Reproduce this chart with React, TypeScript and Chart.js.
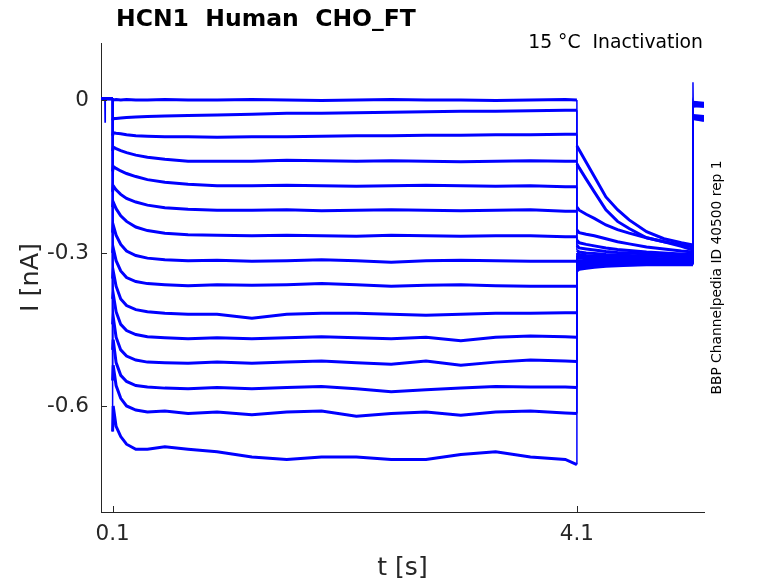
import React, { useEffect, useRef } from "react";
import { Chart, registerables, type ChartConfiguration, type Plugin } from "chart.js";

Chart.register(...registerables);

const FONT = "'DejaVu Sans', sans-serif";
const AXIS_COLOR = "#262626";
const TRACE_COLOR = "#0000ff";

const TITLE = "HCN1  Human  CHO_FT";
const SUBTITLE = "15 °C  Inactivation";
const SIDE_NOTE = "BBP Channelpedia ID 40500 rep 1";
const X_LABEL = "t [s]";
const Y_LABEL = "I [nA]";

const X_TICKS = [0.1, 4.1];
const X_TICK_LABELS = ["0.1", "4.1"];
const Y_TICKS = [0, -0.3, -0.6];
const Y_TICK_LABELS = ["0", "-0.3", "-0.6"];
const X_MIN = 0;
const X_MAX = 5.195;
const Y_MIN = -0.808;
const Y_MAX = 0.112;

// holding period before the prepulse (nA)
const PRE_T = [0, 0.033, 0.035, 0.037, 0.1];
const PRE_I = [0.003, 0.003, 0.003, 0.003, 0.003];
const PRE_I_ARTIFACT = [0.003, 0.003, -0.043, 0.003, 0.003];
const ARTIFACT_SWEEP = 14;

// prepulse, first point is the onset transient
const PULSE_T = [0.1, 0.105, 0.13, 0.17, 0.22, 0.3, 0.4, 0.55, 0.75, 1.0, 1.3, 1.6, 1.9, 2.2, 2.5, 2.8, 3.1, 3.4, 3.7, 4.0, 4.1];
const PULSE_I = [
  [0.0, 0.0, 0.001, 0.0, 0.001, 0.0, 0.0, 0.001, 0.0, 0.0, 0.001, 0.0, -0.001, 0.0, 0.001, 0.0, 0.0, -0.001, 0.0, 0.001, 0.0],
  [-0.04, -0.036, -0.036, -0.035, -0.034, -0.033, -0.032, -0.031, -0.03, -0.029, -0.028, -0.026, -0.026, -0.025, -0.024, -0.023, -0.022, -0.022, -0.021, -0.02, -0.02],
  [-0.07, -0.064, -0.065, -0.066, -0.068, -0.07, -0.071, -0.072, -0.072, -0.073, -0.072, -0.072, -0.071, -0.07, -0.07, -0.069, -0.069, -0.068, -0.068, -0.067, -0.067],
  [-0.1, -0.092, -0.095, -0.099, -0.103, -0.108, -0.112, -0.116, -0.12, -0.12, -0.12, -0.118, -0.119, -0.12, -0.119, -0.12, -0.121, -0.12, -0.119, -0.12, -0.12],
  [-0.14, -0.13, -0.134, -0.139, -0.144, -0.15, -0.156, -0.161, -0.165, -0.168, -0.168, -0.167, -0.168, -0.169, -0.168, -0.167, -0.168, -0.169, -0.168, -0.17, -0.17],
  [-0.18, -0.168, -0.176, -0.185, -0.193, -0.2, -0.206, -0.211, -0.214, -0.216, -0.216, -0.215, -0.217, -0.216, -0.215, -0.216, -0.217, -0.216, -0.215, -0.218, -0.218],
  [-0.21, -0.2, -0.213, -0.227, -0.238, -0.249, -0.256, -0.261, -0.264, -0.265, -0.266, -0.265, -0.266, -0.267, -0.265, -0.266, -0.267, -0.266, -0.266, -0.268, -0.268],
  [-0.26, -0.245, -0.265, -0.283, -0.296, -0.305, -0.31, -0.313, -0.315, -0.314, -0.316, -0.315, -0.313, -0.315, -0.318, -0.315, -0.314, -0.315, -0.316, -0.316, -0.316],
  [-0.3, -0.29, -0.315, -0.335, -0.348, -0.356, -0.36, -0.362, -0.364, -0.362, -0.363, -0.362, -0.36, -0.362, -0.365, -0.363, -0.362, -0.364, -0.365, -0.365, -0.365],
  [-0.35, -0.335, -0.365, -0.39, -0.403, -0.411, -0.415, -0.418, -0.42, -0.42, -0.428, -0.42, -0.418, -0.418, -0.42, -0.422, -0.42, -0.418, -0.418, -0.417, -0.417],
  [-0.39, -0.38, -0.415, -0.44, -0.452, -0.46, -0.464, -0.466, -0.468, -0.466, -0.468, -0.466, -0.464, -0.466, -0.468, -0.465, -0.472, -0.465, -0.463, -0.464, -0.465],
  [-0.44, -0.425, -0.465, -0.49, -0.502, -0.51, -0.514, -0.515, -0.516, -0.514, -0.516, -0.514, -0.512, -0.515, -0.518, -0.512, -0.52, -0.514, -0.51, -0.512, -0.513],
  [-0.49, -0.47, -0.515, -0.54, -0.552, -0.56, -0.563, -0.565, -0.566, -0.564, -0.566, -0.564, -0.562, -0.566, -0.572, -0.568, -0.565, -0.562, -0.563, -0.563, -0.564],
  [-0.55, -0.52, -0.56, -0.585, -0.6, -0.608, -0.612, -0.61, -0.615, -0.612, -0.617, -0.612, -0.61, -0.62, -0.615, -0.612, -0.618, -0.612, -0.61, -0.614, -0.615],
  [-0.65, -0.6, -0.64, -0.66, -0.675, -0.685, -0.685, -0.68, -0.685, -0.69, -0.7, -0.705, -0.7, -0.7, -0.705, -0.705, -0.695, -0.69, -0.7, -0.705, -0.715],
];

// test pulse (tail currents)
const TAIL_T = [4.1, 4.12, 4.18, 4.25, 4.35, 4.45, 4.55, 4.7, 4.85, 5.0, 5.1];
const TAIL_I = [
  [-0.09, -0.098, -0.122, -0.15, -0.19, -0.215, -0.235, -0.258, -0.272, -0.28, -0.284],
  [-0.125, -0.133, -0.155, -0.18, -0.215, -0.238, -0.252, -0.27, -0.278, -0.284, -0.288],
  [-0.21, -0.216, -0.224, -0.232, -0.245, -0.254, -0.261, -0.27, -0.278, -0.287, -0.294],
  [-0.255, -0.26, -0.263, -0.266, -0.272, -0.278, -0.282, -0.288, -0.292, -0.296, -0.298],
  [-0.275, -0.28, -0.283, -0.286, -0.29, -0.293, -0.295, -0.298, -0.3, -0.302, -0.303],
  [-0.285, -0.29, -0.292, -0.294, -0.297, -0.299, -0.3, -0.302, -0.303, -0.305, -0.306],
  [-0.295, -0.298, -0.3, -0.301, -0.303, -0.304, -0.305, -0.306, -0.307, -0.308, -0.309],
  [-0.3, -0.303, -0.305, -0.306, -0.307, -0.308, -0.309, -0.31, -0.311, -0.311, -0.312],
  [-0.305, -0.307, -0.308, -0.309, -0.31, -0.311, -0.312, -0.313, -0.313, -0.314, -0.314],
  [-0.31, -0.31, -0.311, -0.312, -0.313, -0.313, -0.314, -0.315, -0.315, -0.316, -0.316],
  [-0.315, -0.315, -0.315, -0.316, -0.316, -0.317, -0.317, -0.317, -0.318, -0.318, -0.318],
  [-0.32, -0.32, -0.32, -0.32, -0.32, -0.32, -0.32, -0.321, -0.32, -0.32, -0.32],
  [-0.325, -0.324, -0.323, -0.323, -0.322, -0.322, -0.322, -0.321, -0.321, -0.321, -0.321],
  [-0.33, -0.328, -0.326, -0.325, -0.324, -0.323, -0.323, -0.322, -0.322, -0.322, -0.322],
  [-0.335, -0.332, -0.33, -0.328, -0.326, -0.325, -0.324, -0.323, -0.323, -0.323, -0.323],
];

// back to holding
const END_T = [5.1, 5.102, 5.195];
const END_I = [
  [0.035, -0.005, -0.008],
  [-0.01, -0.008, -0.01],
  [-0.012, -0.01, -0.012],
  [-0.006, -0.012, -0.01],
  [-0.01, -0.03, -0.032],
  [-0.02, -0.034, -0.036],
  [-0.015, -0.01, -0.012],
  [-0.03, -0.035, -0.037],
  [-0.01, -0.006, -0.008],
  [-0.03, -0.036, -0.038],
  [-0.008, -0.004, -0.006],
  [-0.028, -0.034, -0.036],
  [-0.006, -0.008, -0.009],
  [-0.03, -0.036, -0.04],
  [-0.012, -0.006, -0.007],
];

const decorations: Plugin<"line"> = {
  id: "decorations",
  afterDraw(chart) {
    const { ctx, chartArea, scales } = chart;
    const midY = (chartArea.top + chartArea.bottom) / 2;
    ctx.save();

    // inward tick marks
    ctx.strokeStyle = AXIS_COLOR;
    ctx.lineWidth = 1;
    ctx.beginPath();
    X_TICKS.forEach((v) => {
      const px = Math.round(scales.x.getPixelForValue(v)) + 0.5;
      ctx.moveTo(px, chartArea.bottom);
      ctx.lineTo(px, chartArea.bottom - 6);
    });
    Y_TICKS.forEach((v) => {
      const py = Math.round(scales.y.getPixelForValue(v)) + 0.5;
      ctx.moveTo(chartArea.left, py);
      ctx.lineTo(chartArea.left + 6, py);
    });
    ctx.stroke();

    ctx.fillStyle = "#000";
    ctx.textBaseline = "alphabetic";
    ctx.font = `bold 23.5px ${FONT}`;
    ctx.textAlign = "left";
    ctx.fillText(TITLE, 116, 26);

    ctx.font = `18.8px ${FONT}`;
    ctx.textAlign = "right";
    ctx.fillText(SUBTITLE, chartArea.right - 1, 48);

    ctx.fillStyle = AXIS_COLOR;
    ctx.font = `25px ${FONT}`;
    ctx.textAlign = "center";
    ctx.fillText(X_LABEL, (chartArea.left + chartArea.right) / 2, 575);

    ctx.save();
    ctx.translate(38, midY);
    ctx.rotate(-Math.PI / 2);
    ctx.font = `25.5px ${FONT}`;
    ctx.fillText(Y_LABEL, 0, 0);
    ctx.restore();

    ctx.save();
    ctx.translate(721, midY);
    ctx.rotate(-Math.PI / 2);
    ctx.fillStyle = "#000";
    ctx.font = `13.8px ${FONT}`;
    ctx.fillText(SIDE_NOTE, 0, 0);
    ctx.restore();

    ctx.restore();
  },
};

export default function App() {
  const canvasRef = useRef<HTMLCanvasElement | null>(null);
  const chartRef = useRef<Chart<"line"> | null>(null);

  useEffect(() => {
    document.body.style.margin = "0";
    if (!canvasRef.current) return;

    const datasets = PULSE_I.map((pulse, k) => {
      const pre = k === ARTIFACT_SWEEP ? PRE_I_ARTIFACT : PRE_I;
      return {
        data: [
          ...PRE_T.map((t, i) => ({ x: t, y: pre[i] })),
          ...PULSE_T.map((t, i) => ({ x: t, y: pulse[i] })),
          ...TAIL_T.map((t, i) => ({ x: t, y: TAIL_I[k][i] })),
          ...END_T.map((t, i) => ({ x: t, y: END_I[k][i] })),
        ],
        borderColor: TRACE_COLOR,
        borderWidth: 3,
        pointRadius: 0,
        tension: 0,
        fill: false,
        // voltage steps are drawn as thin vertical strokes
        segment: {
          borderWidth: (ctx: any) =>
            Math.abs(ctx.p0.parsed.x - ctx.p1.parsed.x) < 0.003 ? 1.5 : 3,
        },
      };
    });

    const tickFont = { family: FONT, size: 21.5 };

    const config: ChartConfiguration<"line"> = {
      type: "line",
      data: { datasets },
      options: {
        responsive: false,
        animation: false,
        layout: { padding: { left: 0, right: 74, top: 43, bottom: 0 } },
        plugins: {
          legend: { display: false },
          tooltip: { enabled: false },
          title: { display: false },
        },
        scales: {
          x: {
            type: "linear",
            min: X_MIN,
            max: X_MAX,
            grid: { display: false, drawTicks: false },
            border: { display: true, color: AXIS_COLOR, width: 1 },
            afterBuildTicks: (scale) => {
              scale.ticks = X_TICKS.map((v) => ({ value: v }));
            },
            afterFit: (scale) => {
              scale.height = 71;
            },
            ticks: {
              autoSkip: false,
              maxRotation: 0,
              padding: 10,
              color: AXIS_COLOR,
              font: tickFont,
              callback: (_v, i) => X_TICK_LABELS[i],
            },
          },
          y: {
            type: "linear",
            min: Y_MIN,
            max: Y_MAX,
            grid: { display: false, drawTicks: false },
            border: { display: true, color: AXIS_COLOR, width: 1 },
            afterBuildTicks: (scale) => {
              scale.ticks = Y_TICKS.map((v) => ({ value: v }));
            },
            afterFit: (scale) => {
              scale.width = 101;
            },
            ticks: {
              autoSkip: false,
              padding: 12,
              color: AXIS_COLOR,
              font: tickFont,
              callback: (_v, i) => Y_TICK_LABELS[i],
            },
          },
        },
      },
      plugins: [decorations],
    };

    chartRef.current = new Chart(canvasRef.current, config);

    return () => {
      chartRef.current?.destroy();
      chartRef.current = null;
    };
  }, []);

  return (
    <div style={{ width: 778, height: 583, background: "#fff" }}>
      <canvas ref={canvasRef} width={778} height={583} />
    </div>
  );
}
